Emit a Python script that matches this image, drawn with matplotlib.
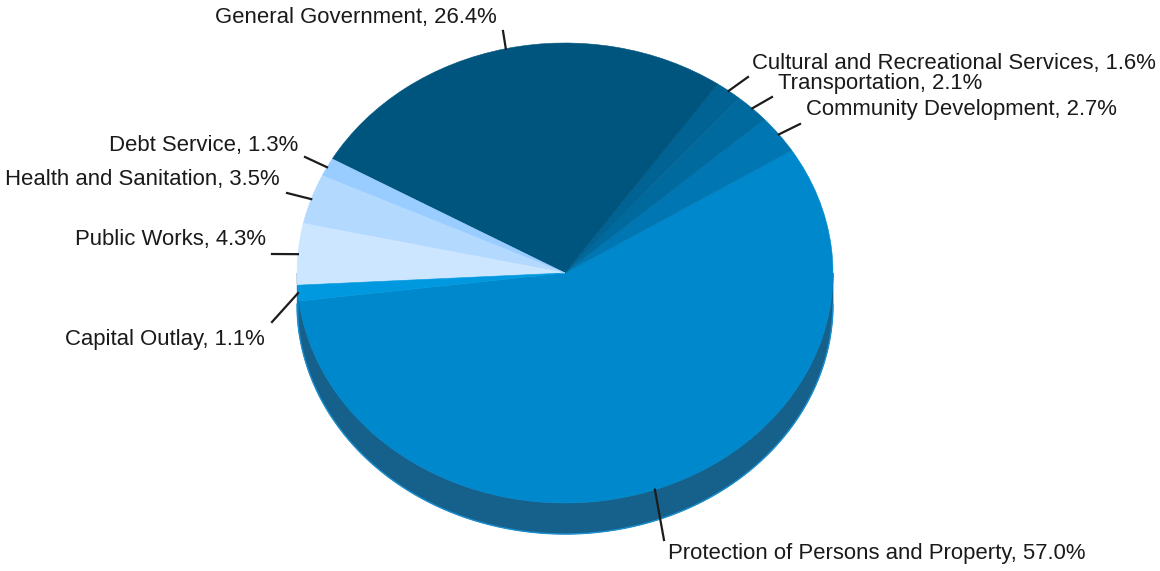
import numpy as np
import matplotlib
matplotlib.use("Agg")
import matplotlib.pyplot as plt
from matplotlib.patches import Wedge, Polygon
from matplotlib.transforms import Affine2D

# slice data, counterclockwise from the left edge of the big slice
labels = [
    "Protection of Persons and Property",
    "Community Development",
    "Transportation",
    "Cultural and Recreational Services",
    "General Government",
    "Debt Service",
    "Health and Sanitation",
    "Public Works",
    "Capital Outlay",
]
shares = [57.0, 2.7, 2.1, 1.6, 26.4, 1.3, 3.5, 4.3, 1.1]

colors = ["#0088cc", "#0077b3", "#006a9f", "#006394", "#00557f",
          "#99ccff", "#b3d9ff", "#cce6ff", "#0099e0"]
wall_colors = ["#15618c", "#0e5a85", "#0b5079", "#0a4b72", "#063f60",
               "#7aa3cc", "#8fadcc", "#a3b8cc", "#0a7ab3"]

# label layout: text anchor, alignment, connector end
label_pos = [
    (668, 553, "left", 664, 540),
    (806, 110, "left", 800, 124),
    (778, 84, "left", 772, 97),
    (752, 63, "left", 748, 77),
    (497, 17, "right", 503, 31),
    (298, 145, "right", 305, 157),
    (280, 180, "right", 287, 193),
    (266, 240, "right", 272, 254),
    (265, 340, "right", 272, 322),
]

cx, cy = 565, 273      # centre of top face (pixels)
rx, ry = 268, 230      # radii of top face
depth = 31
start = 187.0

plt.rcParams["font.family"] = ["Liberation Sans", "DejaVu Sans"]

fig = plt.figure(figsize=(11.6, 5.71), dpi=100)
ax = fig.add_axes([0, 0, 1, 1])
ax.set_xlim(0, 1160)
ax.set_ylim(571, 0)
ax.axis("off")

fracs = np.array(shares) / np.sum(shares) * 360.0
t1 = start + np.concatenate([[0], np.cumsum(fracs)[:-1]])
t2 = t1 + fracs


def rim(theta_deg, dy=0.0):
    t = np.radians(theta_deg)
    return cx + rx * np.cos(t), cy - ry * np.sin(t) + dy


# side wall along the front half
for a, b, wc in zip(t1, t2, wall_colors):
    # fold angles into the 180..360 band that faces the viewer
    for off in (0, 360):
        lo, hi = max(a, 180 + off), min(b, 360 + off)
        if hi <= lo:
            continue
        th = np.linspace(lo, hi, 200)
        xt, yt = rim(th)
        xb, yb = rim(th, depth)
        pts = np.column_stack([np.r_[xt, xb[::-1]], np.r_[yt, yb[::-1]]])
        ax.add_patch(Polygon(pts, closed=True, facecolor=wc, edgecolor=wc, lw=0.5))

# thin bright edge under the wall
th = np.linspace(180, 360, 400)
xb, yb = rim(th, depth)
ax.plot(xb, yb, color="#1a8fd0", lw=1.0, solid_capstyle="round")

# top face
face_tr = Affine2D().scale(1, -ry / rx).translate(cx, cy) + ax.transData
for a, b, c in zip(t1, t2, colors):
    w = Wedge((0, 0), rx, a, b, facecolor=c, edgecolor=c, lw=0.4)
    w.set_transform(face_tr)
    ax.add_patch(w)

# data labels with connectors
for name, val, a, b, (tx, ty, ha, ex, ey) in zip(labels, shares, t1, t2, label_pos):
    sx, sy = rim((a + b) / 2)
    ax.plot([sx, ex], [sy, ey], color="#1c1c1c", lw=1.6)
    ax.text(tx, ty, f"{name}, {val:.1f}%", ha=ha, va="center",
            fontsize=15.9, color="#1a1a1a")

fig.savefig("out.png", dpi=100)
